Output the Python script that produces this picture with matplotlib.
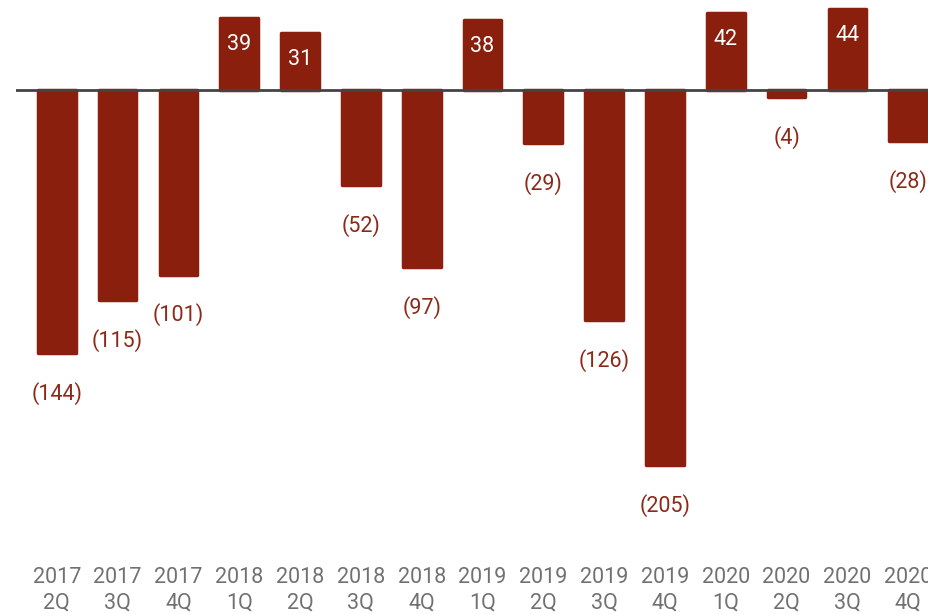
from matplotlib import pyplot as plt

quarters = ["2017\n2Q", "2017\n3Q", "2017\n4Q", "2018\n1Q", "2018\n2Q", "2018\n3Q", "2018\n4Q",
            "2019\n1Q", "2019\n2Q", "2019\n3Q", "2019\n4Q", "2020\n1Q", "2020\n2Q", "2020\n3Q", "2020\n4Q"]
values = [-144, -115, -101, 39, 31, -52, -97, 38, -29, -126, -205, 42, -4, 44, -28]

bar_color = '#8a1f0e'
plt.rcParams['font.family'] = ['Roboto', 'DejaVu Sans']

fig = plt.figure(figsize=(9.29, 6.14), dpi=100)
# axes run a little past the right edge, the source image is cropped there
ax = fig.add_axes([16 / 929, 1 - 511 / 614, 933 / 929, 513 / 614])

x_values = range(len(quarters))
ax.bar(x_values, values, width=0.62, color=bar_color, edgecolor=bar_color,
       linewidth=2.5, joinstyle='round')
ax.axhline(0, color='#444444', linewidth=2, zorder=3)

# value labels: white inside positive bars, brown under negative ones
for i, v in zip(x_values, values):
    if v > 0:
        ax.annotate(str(v), (i, v), xytext=(0, -19), textcoords='offset points',
                    ha='center', va='center', color='white', fontsize=15.5)
    else:
        ax.annotate('(%d)' % -v, (i, v), xytext=(0, -29), textcoords='offset points',
                    ha='center', va='center', color='#8c2a1a', fontsize=15.5)

ax.set_xlim(-0.67, 14.67)
ax.set_ylim(-230, 50)
ax.set_xticks(list(x_values))
ax.set_xticklabels(quarters, color='#717171', fontsize=15.5, linespacing=1.3)
ax.tick_params(axis='x', length=0, pad=40)
ax.set_yticks([])
for side in ['top', 'right', 'bottom', 'left']:
    ax.spines[side].set_visible(False)

plt.savefig('out.png', dpi=100)
